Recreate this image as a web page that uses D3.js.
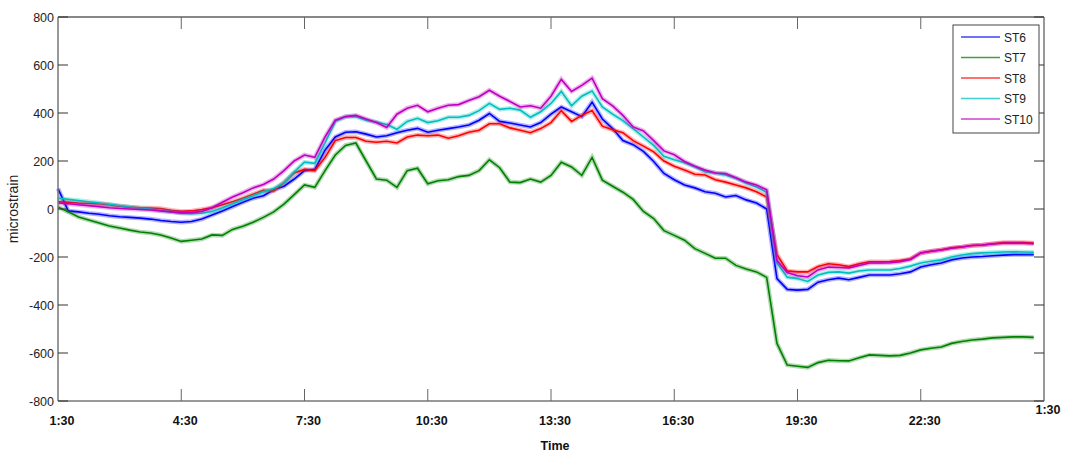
<!DOCTYPE html>
<html>
<head>
<meta charset="utf-8">
<script src="https://cdn.jsdelivr.net/npm/d3@7"></script>
<style>
  body { margin: 0; background: #fff; }
  svg { display: block; font-family: "Liberation Sans", Arial, sans-serif; }
</style>
</head>
<body>
<div id="chart"></div>
<script>
// hours after 1:30, sampled every 15 min
var hours = d3.range(0, 23.76, 0.25);

var seriesNames = ["ST6", "ST7", "ST8", "ST9", "ST10"];
var seriesColors = ["#0000ff", "#008000", "#ff0000", "#00bfbf", "#bf00bf"];

var st6 = [85, -8, -12, -18, -22, -28, -32, -35, -38, -42, -48, -52, -55, -52, -42, -25, -8, 10, 28, 45, 55, 80, 95, 125, 160,
  165, 245, 300, 320, 322, 312, 300, 305, 318, 328, 336, 320, 328, 335, 342, 350, 370, 398, 365, 358, 350, 342, 360, 395, 425,
  405, 385, 445, 375, 335, 285, 268, 240, 198, 148, 122, 100, 88, 72, 66, 50, 56, 38, 25, 0,
  -290, -335, -338, -335, -305, -295, -288, -295, -285, -275, -275, -275, -270, -262, -242, -232, -225, -212, -204, -200,
  -198, -195, -192, -190, -190, -190];
var st7 = [8, -12, -33, -46, -58, -71, -79, -88, -96, -100, -108, -121, -135, -130, -125, -108, -110, -85, -72, -55, -35, -12, 20, 60, 100,
  90, 160, 225, 265, 275, 200, 125, 120, 90, 160, 170, 105, 118, 122, 135, 140, 160, 205, 172, 112, 110, 125, 112, 140, 195,
  175, 140, 215, 120, 95, 70, 40, -10, -40, -90, -110, -130, -165, -185, -205, -205, -235, -250, -262, -285,
  -560, -650, -655, -660, -640, -630, -632, -633, -620, -608, -610, -612, -610, -600, -587, -580, -575, -560, -552, -546,
  -542, -537, -535, -533, -533, -535];
var st8 = [30, 28, 25, 24, 22, 18, 12, 8, 5, 4, 2, -5, -10, -8, -2, 5, 18, 30, 45, 62, 78, 75, 110, 150, 165,
  160, 215, 285, 298, 298, 282, 278, 282, 275, 300, 308, 305, 308, 295, 305, 320, 328, 355, 355, 338, 328, 318, 335, 360, 410,
  365, 390, 410, 345, 330, 318, 285, 262, 238, 200, 178, 162, 145, 142, 122, 112, 100, 88, 72, 50,
  -190, -258, -262, -262, -240, -228, -232, -240, -228, -220, -220, -219, -215, -208, -183, -176, -170, -162, -158, -152,
  -150, -145, -140, -140, -140, -142];
var st9 = [45, 40, 35, 30, 25, 20, 14, 8, 3, 0, -6, -12, -18, -20, -18, -10, 5, 22, 40, 55, 72, 85, 110, 155, 195,
  190, 275, 365, 385, 385, 370, 362, 352, 332, 365, 378, 360, 368, 382, 382, 390, 410, 440, 415, 420, 412, 382, 405, 440, 490,
  430, 470, 492, 425, 395, 368, 335, 300, 265, 220, 205, 193, 176, 155, 150, 142, 128, 108, 92, 70,
  -225, -284, -290, -302, -275, -264, -262, -267, -258, -254, -254, -254, -248, -238, -225, -218, -212, -200, -192, -186,
  -183, -181, -179, -178, -179, -180];
var st10 = [25, 22, 18, 14, 10, 5, 2, 0, -2, -4, -8, -12, -16, -15, -10, 5, 28, 50, 68, 88, 102, 125, 160, 200, 225,
  215, 300, 370, 385, 390, 375, 360, 340, 395, 420, 432, 405, 420, 432, 435, 452, 468, 495, 470, 448, 425, 430, 420, 470, 540,
  490, 515, 545, 460, 430, 390, 342, 325, 285, 242, 226, 198, 178, 162, 150, 148, 130, 112, 100, 80,
  -215, -265, -278, -283, -254, -242, -244, -246, -235, -225, -225, -224, -220, -210, -183, -176, -171, -163, -158, -152,
  -150, -146, -143, -142, -143, -145];

var xTicks = [0, 3, 6, 9, 12, 15, 18, 21, 24];
var xTickLabels = ["1:30", "4:30", "7:30", "10:30", "13:30", "16:30", "19:30", "22:30", "1:30"];
var yTicks = [-800, -600, -400, -200, 0, 200, 400, 600, 800];

var allSeries = [st6, st7, st8, st9, st10];

var width = 1070, height = 452;
var margin = {top: 17, right: 26, bottom: 51, left: 58};

var svg = d3.select("#chart").append("svg")
    .attr("width", width)
    .attr("height", height);

var x = d3.scaleLinear()
    .domain([0, 24])
    .range([margin.left, width - margin.right]);
var y = d3.scaleLinear()
    .domain([-800, 800])
    .range([height - margin.bottom, margin.top]);

var x0 = x.range()[0], x1 = x.range()[1], y0 = y.range()[0], y1 = y.range()[1];

// series
var line = d3.line()
    .x(function(d, i) { return x(hours[i]); })
    .y(function(d) { return y(d); });

var plot = svg.append("g");
allSeries.forEach(function(s, j) {
    plot.append("path")
        .attr("d", line(s))
        .attr("fill", "none")
        .attr("stroke", seriesColors[j])
        .attr("stroke-opacity", 0.3)
        .attr("stroke-width", 4.5);
    plot.append("path")
        .attr("d", line(s))
        .attr("fill", "none")
        .attr("stroke", seriesColors[j])
        .attr("stroke-width", 1.6);
});

// frame
svg.append("line").attr("x1", x0).attr("x2", x1).attr("y1", y1).attr("y2", y1)
    .attr("stroke", "#111").attr("stroke-width", 1);
svg.append("line").attr("x1", x0).attr("x2", x1).attr("y1", y0).attr("y2", y0)
    .attr("stroke", "#777").attr("stroke-width", 1.5);
svg.append("line").attr("x1", x0).attr("x2", x0).attr("y1", y0).attr("y2", y1)
    .attr("stroke", "#777").attr("stroke-width", 1.5);
svg.append("line").attr("x1", x1).attr("x2", x1).attr("y1", y0).attr("y2", y1)
    .attr("stroke", "#777").attr("stroke-width", 1.5);

// y ticks (inside, both sides)
var yAxis = svg.append("g");
yTicks.forEach(function(v) {
    yAxis.append("line").attr("x1", x0).attr("x2", x0 + 10)
        .attr("y1", y(v)).attr("y2", y(v)).attr("stroke", "#333");
    yAxis.append("line").attr("x1", x1 - 10).attr("x2", x1)
        .attr("y1", y(v)).attr("y2", y(v)).attr("stroke", "#333");
    yAxis.append("text")
        .attr("x", x0 - 4)
        .attr("y", y(v) + 4.5)
        .attr("text-anchor", "end")
        .attr("font-size", 12.5)
        .attr("fill", "#222")
        .text(v);
});

// x ticks (inside, top and bottom)
var xAxis = svg.append("g");
xTicks.forEach(function(v, i) {
    if (i > 0 && i < xTicks.length - 1) {
        xAxis.append("line").attr("x1", x(v)).attr("x2", x(v))
            .attr("y1", y0).attr("y2", y0 - 12).attr("stroke", "#666");
        xAxis.append("line").attr("x1", x(v)).attr("x2", x(v))
            .attr("y1", y1).attr("y2", y1 + 12).attr("stroke", "#666");
    }
    var last = i === xTicks.length - 1;
    xAxis.append("text")
        .attr("x", x(v) + 4)
        .attr("y", last ? y0 + 13 : y0 + 24)
        .attr("text-anchor", "middle")
        .attr("font-size", 12.5)
        .attr("font-weight", "bold")
        .attr("fill", "#111")
        .text(xTickLabels[i]);
});

svg.append("text")
    .attr("x", (x0 + x1) / 2 + 4)
    .attr("y", 450)
    .attr("text-anchor", "middle")
    .attr("font-size", 12.5)
    .attr("font-weight", "bold")
    .attr("fill", "#111")
    .text("Time");

svg.append("text")
    .attr("transform", "translate(18," + y(0) + ") rotate(-90)")
    .attr("text-anchor", "middle")
    .attr("font-size", 14)
    .attr("fill", "#222")
    .text("microstrain");

// legend
var legend = svg.append("g").attr("transform", "translate(953,25)");
legend.append("rect")
    .attr("width", 86).attr("height", 108)
    .attr("fill", "#fff").attr("stroke", "#444");
seriesNames.forEach(function(name, j) {
    var ly = 12 + j * 20.5;
    legend.append("line")
        .attr("x1", 8).attr("x2", 47).attr("y1", ly).attr("y2", ly)
        .attr("stroke", seriesColors[j]).attr("stroke-width", 1.5)
        .attr("stroke-opacity", 0.75);
    legend.append("text")
        .attr("x", 51).attr("y", ly + 4.5)
        .attr("font-size", 12)
        .attr("fill", "#222")
        .text(name);
});
</script>
</body>
</html>
